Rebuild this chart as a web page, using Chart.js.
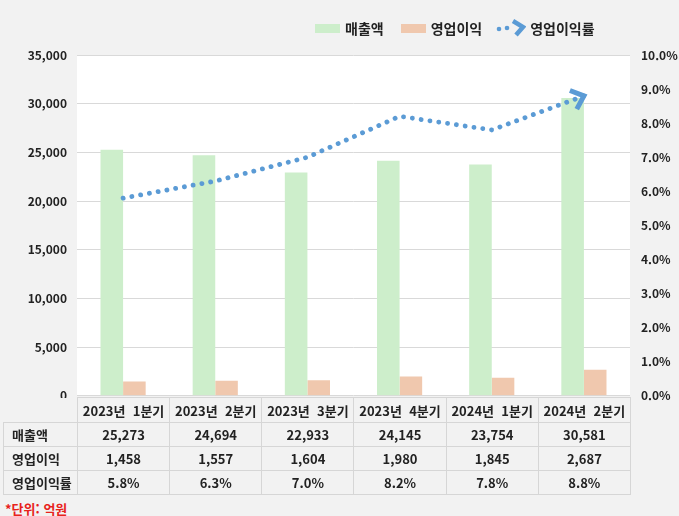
<!DOCTYPE html>
<html lang="ko">
<head>
<meta charset="utf-8">
<script src="https://cdn.jsdelivr.net/npm/chart.js@4"></script>
<style>
  html, body { margin:0; padding:0; background:#f2f2f2; }
  body { width:679px; height:516px; position:relative; overflow:hidden;
         font-family:"Noto Sans CJK KR","Noto Sans",sans-serif; }
  #c { position:absolute; left:0; top:0; }
  #legend { position:absolute; top:18px; left:315px; height:20px; display:flex; align-items:center;
            font-weight:700; font-size:14px; color:#222; white-space:nowrap; }
  #legend .it { display:flex; align-items:center; }
  #legend .box { display:inline-block; width:25px; height:9px; margin-right:5px; }
  #tbl { position:absolute; left:3px; top:397px; border-collapse:collapse; font-weight:700; font-size:13px; color:#222; }
  #tbl td { border:1px solid #d6d6d6; height:23px; padding:0; text-align:center; background:#f2f2f2; }
  #tbl td.lab { text-align:left; padding-left:8px; width:65px; }
  #tbl td.blank { border:none; border-bottom:1px solid #d6d6d6; }
  #tbl tr.head td { height:24px; }
  #unit { position:absolute; left:5px; top:499px; color:#e8221b; font-weight:700; font-size:13px; }
</style>
</head>
<body>
<canvas id="c" width="679" height="414"></canvas>
<div id="legend"></div>
<table id="tbl"></table>
<div id="unit">*단위: 억원</div>
<script>
const categories = ['2023년  1분기','2023년  2분기','2023년  3분기','2023년  4분기','2024년  1분기','2024년  2분기'];
const revenue = [25273, 24694, 22933, 24145, 23754, 30581];
const opProfit = [1458, 1557, 1604, 1980, 1845, 2687];
const opMargin = [5.8, 6.3, 7.0, 8.2, 7.8, 8.8];
const seriesNames = ['매출액', '영업이익', '영업이익률'];
const leftTicks = { min:0, max:35000, step:5000 };
const rightTicks = { min:0, max:10, step:1 };

const GREEN = '#cdeecb', ORANGE = '#f0c8ae', BLUE = '#5b9bd5';

const bgPlugin = {
  id:'bg',
  beforeDraw(chart){
    const {ctx, chartArea:a} = chart;
    ctx.save(); ctx.fillStyle = '#ffffff';
    ctx.fillRect(a.left, a.top, a.right-a.left, a.bottom-a.top);
    ctx.restore();
  }
};
const arrowPlugin = {
  id:'arrow',
  afterDatasetsDraw(chart){
    const meta = chart.getDatasetMeta(0);
    const pts = meta.data; const n = pts.length;
    const p = pts[n-1], q = pts[n-2];
    const ang = Math.atan2(p.y - q.y, p.x - q.x);
    const back = ang + Math.PI; const spread = 0.72; const len = 15;
    const ctx = chart.ctx;
    ctx.save();
    ctx.strokeStyle = BLUE; ctx.lineWidth = 5; ctx.lineJoin = 'miter'; ctx.lineCap = 'butt';
    ctx.beginPath();
    ctx.moveTo(p.x + len*Math.cos(back+spread), p.y + len*Math.sin(back+spread));
    ctx.lineTo(p.x, p.y);
    ctx.lineTo(p.x + len*Math.cos(back-spread), p.y + len*Math.sin(back-spread));
    ctx.stroke();
    ctx.restore();
  }
};

const chart = new Chart(document.getElementById('c'), {
  data: {
    labels: categories,
    datasets: [
      { type:'line', label:seriesNames[2], data:opMargin, yAxisID:'y1', borderColor:BLUE,
        borderWidth:4.8, borderDash:[0.1, 8.8], borderCapStyle:'round', pointRadius:0, tension:0, order:0 },
      { type:'bar', label:seriesNames[0], data:revenue, yAxisID:'y', backgroundColor:GREEN,
        categoryPercentage:0.49, barPercentage:1, order:1 },
      { type:'bar', label:seriesNames[1], data:opProfit, yAxisID:'y', backgroundColor:ORANGE,
        categoryPercentage:0.49, barPercentage:1, order:1 }
    ]
  },
  options: {
    responsive:false, animation:false, devicePixelRatio:1,
    layout:{ padding:{ top:55, bottom:9, left:0, right:0 } },
    plugins:{ legend:{ display:false }, tooltip:{ enabled:false } },
    scales:{
      x:{ display:false, offset:true },
      y:{ position:'left', min:leftTicks.min, max:leftTicks.max,
          afterFit(s){ s.width = 77; },
          grid:{ color:'#d9d9d9', drawTicks:false },
          border:{ display:false },
          ticks:{ stepSize:leftTicks.step, padding:10, color:'#222',
                  font:{ family:'"Noto Sans CJK KR"', size:12, weight:'bold' },
                  callback:v => v.toLocaleString('en-US') } },
      y1:{ position:'right', min:rightTicks.min, max:rightTicks.max,
          afterFit(s){ s.width = 49; },
          grid:{ display:false, drawTicks:false },
          border:{ display:false },
          ticks:{ stepSize:rightTicks.step, padding:11, color:'#222',
                  font:{ family:'"Noto Sans CJK KR"', size:12, weight:'bold' },
                  callback:v => v.toFixed(1) + '%' } }
    }
  },
  plugins:[bgPlugin, arrowPlugin]
});

// legend
const lg = document.getElementById('legend');
lg.innerHTML =
  `<span class="it"><span class="box" style="background:${GREEN}"></span>${seriesNames[0]}</span>` +
  `<span class="it" style="margin-left:17px"><span class="box" style="background:${ORANGE}"></span>${seriesNames[1]}</span>` +
  `<span class="it" style="margin-left:14px"><svg width="30" height="18" style="margin-right:4px">` +
  `<circle cx="3" cy="10" r="2.3" fill="${BLUE}"/><circle cx="11" cy="9" r="2.3" fill="${BLUE}"/>` +
  `<polyline points="17,2 27,8 20,16" fill="none" stroke="${BLUE}" stroke-width="4.5" stroke-linejoin="miter"/>` +
  `</svg>${seriesNames[2]}</span>`;

// data table
const tbl = document.getElementById('tbl');
const colW = (chart.chartArea.right - chart.chartArea.left) / categories.length;
let html = '<tr class="head"><td class="blank lab"></td>' + categories.map(c => `<td style="width:${colW-1}px">${c.replace(/ /g,'&nbsp;')}</td>`).join('') + '</tr>';
html += `<tr><td class="lab">${seriesNames[0]}</td>` + revenue.map(v => `<td>${v.toLocaleString('en-US')}</td>`).join('') + '</tr>';
html += `<tr><td class="lab">${seriesNames[1]}</td>` + opProfit.map(v => `<td>${v.toLocaleString('en-US')}</td>`).join('') + '</tr>';
html += `<tr><td class="lab">${seriesNames[2]}</td>` + opMargin.map(v => `<td>${v.toFixed(1)}%</td>`).join('') + '</tr>';
tbl.innerHTML = html;
</script>
</body>
</html>
